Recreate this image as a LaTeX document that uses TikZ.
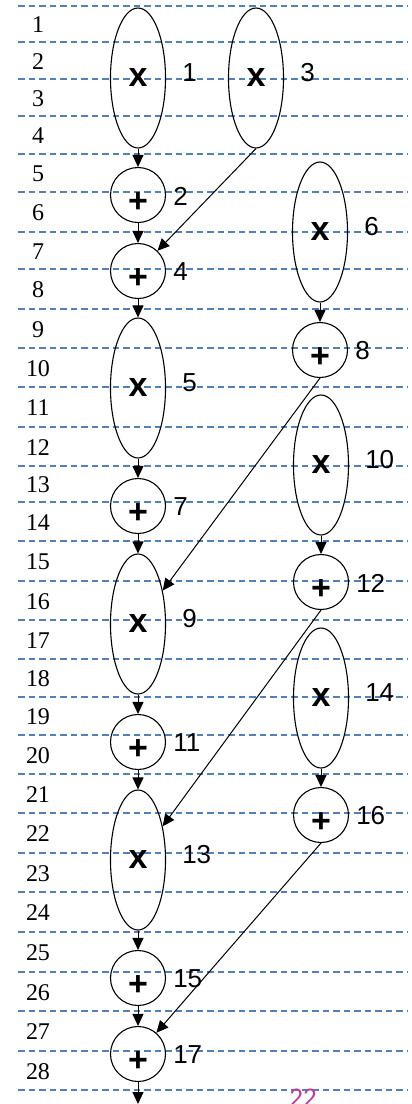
\documentclass[tikz,border=0pt]{standalone}
\usepackage{fontspec}
\setmainfont{Liberation Sans}
\newfontfamily\rowfont{Liberation Serif}
\newfontfamily\pagefont{Carlito}
\usetikzlibrary{arrows.meta,shapes.geometric}
\definecolor{gridblue}{HTML}{4F81BD}
\definecolor{pagemagenta}{HTML}{BE3CA0}

\begin{document}
\begin{tikzpicture}[
  x=1pt, y=-1pt,
  gridline/.style={gridblue, line width=1.2pt, dash pattern=on 6.5pt off 4pt},
  rownum/.style={inner sep=0pt, font=\rowfont\fontsize{24}{24}\selectfont},
  numlbl/.style={inner sep=0pt, font=\fontsize{26}{26}\selectfont},
  mul/.style={draw, ellipse, line width=1.1pt, minimum width=55pt, minimum height=140pt, inner sep=0pt, font=\fontsize{34}{34}\selectfont\bfseries, label={[numlbl, xshift=16pt, yshift=5pt]right:#1}},
  add/.style={draw, circle, line width=1.1pt, minimum size=55pt, inner sep=0pt, font=\fontsize{34}{34}\selectfont\bfseries, text height=34pt, text depth=0pt, label={[numlbl, xshift=7pt, yshift=-1pt]right:#1}},
  arr/.style={-{Triangle[length=12pt, width=11pt]}, line width=1pt},
]
  \useasboundingbox (0,0) rectangle (412,1104);
  \fill[white] (0,0) rectangle (412,1104);

  % Grid
  \draw[gridline] (18,6) -- (408,6);
  \foreach \y [count=\k, remember=\y as \yp (initially 6)] in {42,79,116,154,192,232,269,309,348,387,427,466,502,541,581,620,659,697,735,774,813,853,892,932,972,1011,1051,1090} {
    \draw[gridline] (18,\y) -- (408,\y);
    \node[rownum] (r\k) at (38,{(\yp+\y)/2+1}) {\k};
  }

  % Left column
  \node[mul=1] (m1) at (138,78) {x};
  \node[add=2] (a2) at (138,195) {+};
  \node[add=4] (a4) at (138,271) {+};
  \node[mul=5] (m5) at (138,388) {x};
  \node[add=7] (a7) at (138,506) {+};
  \node[mul=9] (m9) at (138,624) {x};
  \node[add=11] (a11) at (138,742) {+};
  \node[mul=13] (m13) at (138,860) {x};
  \node[add=15] (a15) at (138,978) {+};
  \node[add=17] (a17) at (138,1054) {+};
  \coordinate (out) at (138,1104);

  % Right column
  \node[mul=3] (m3) at (256,78) {x};
  \node[mul=6] (m6) at (320,232) {x};
  \node[add=8] (a8) at (320,350) {+};
  \node[mul=10] (m10) at (321,465) {x};
  \node[add=12] (a12) at (321,582) {+};
  \node[mul=14] (m14) at (321,698) {x};
  \node[add=16] (a16) at (321,815) {+};

  % Edges
  \draw[arr] (m1) -- (a2);
  \draw[arr] (a2) -- (a4);
  \draw[arr] (m3.south) -- (a4);
  \draw[arr] (a4) -- (m5);
  \draw[arr] (m5) -- (a7);
  \draw[arr] (a7) -- (m9);
  \draw[arr] (m6) -- (a8);
  \draw[arr] (a8.south) -- (m9);
  \draw[arr] (m9) -- (a11);
  \draw[arr] (a11) -- (m13);
  \draw[arr] (m10) -- (a12);
  \draw[arr] (a12.south) -- (m13);
  \draw[arr] (m13) -- (a15);
  \draw[arr] (a15) -- (a17);
  \draw[arr] (m14) -- (a16);
  \draw[arr] (a16.south) -- (a17);
  \draw[arr] (a17) -- (out);

  % Page number
  \node[anchor=base, inner sep=0pt, text=pagemagenta, font=\pagefont\fontsize{27}{27}\selectfont] (page) at (303,1106) {22};
\end{tikzpicture}
\end{document}
